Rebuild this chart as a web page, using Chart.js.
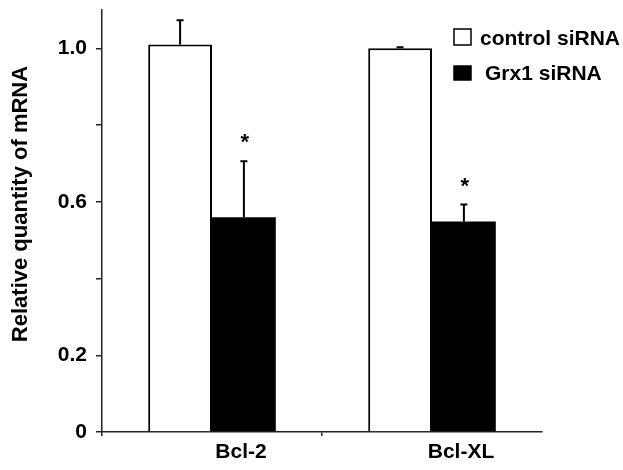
<!DOCTYPE html>
<html>
<head>
<meta charset="utf-8">
<script src="https://cdn.jsdelivr.net/npm/chart.js@4"></script>
<style>
  html, body { margin: 0; padding: 0; background: #fff; }
  #wrap { width: 623px; height: 470px; }
</style>
</head>
<body>
<div id="wrap"><canvas id="mrnaChart" width="623" height="470"></canvas></div>
<script>
// values
const genes = ["Bcl-2", "Bcl-XL"];
const controlMean = [1.01, 1.0];
const controlErr = [0.063, 0.003];
const grx1Mean = [0.56, 0.549];
const grx1Err = [0.146, 0.044];
const grx1Significant = [true, true];
const yTicks = [0, 0.2, 0.4, 0.6, 0.8, 1.0];
const yTickLabels = ["0", "0.2", "", "0.6", "", "1.0"];

const FONT = '"Liberation Sans", Arial, sans-serif';
const AXIS = "#222";

// up-only error bars plus asterisks over the Grx1 bars
const errorBars = {
  id: "errorBars",
  afterDatasetsDraw(chart) {
    const ctx = chart.ctx;
    const yScale = chart.scales.y;
    ctx.save();
    ctx.strokeStyle = "#000";
    ctx.lineWidth = 2;
    chart.data.datasets.forEach((ds, di) => {
      const meta = chart.getDatasetMeta(di);
      meta.data.forEach((bar, i) => {
        const top = yScale.getPixelForValue(ds.data[i] + ds.errors[i]);
        ctx.beginPath();
        ctx.moveTo(bar.x, bar.y);
        ctx.lineTo(bar.x, top);
        ctx.moveTo(bar.x - 3.5, top);
        ctx.lineTo(bar.x + 3.5, top);
        ctx.stroke();
        if (ds.stars && ds.stars[i]) {
          ctx.fillStyle = "#000";
          ctx.font = "bold 22px " + FONT;
          ctx.textAlign = "center";
          ctx.textBaseline = "alphabetic";
          ctx.fillText("*", bar.x + 1, top - 12);
        }
      });
    });
    ctx.restore();
  }
};

// legend in the top right corner
const boxLegend = {
  id: "boxLegend",
  afterDraw(chart) {
    const ctx = chart.ctx;
    const rows = [
      { box: [454, 29, 17, 16], textX: 480, base: 45 },
      { box: [454, 66, 17, 14], textX: 485, base: 80 }
    ];
    ctx.save();
    ctx.font = "bold 21px " + FONT;
    ctx.textAlign = "left";
    ctx.textBaseline = "alphabetic";
    chart.data.datasets.forEach((ds, i) => {
      const r = rows[i];
      ctx.fillStyle = ds.backgroundColor;
      ctx.fillRect(r.box[0], r.box[1], r.box[2], r.box[3]);
      ctx.strokeStyle = "#000";
      ctx.lineWidth = 1.5;
      ctx.strokeRect(r.box[0], r.box[1], r.box[2], r.box[3]);
      ctx.fillStyle = "#000";
      ctx.fillText(ds.label, r.textX, r.base);
    });
    ctx.restore();
  }
};

// y axis title, sits a bit above the middle of the axis
const yTitle = {
  id: "yTitle",
  afterDraw(chart) {
    const ctx = chart.ctx;
    ctx.save();
    ctx.translate(21, 204);
    ctx.rotate(-Math.PI / 2);
    ctx.font = "bold 22px " + FONT;
    ctx.fillStyle = "#000";
    ctx.textAlign = "center";
    ctx.textBaseline = "middle";
    ctx.fillText("Relative quantity of mRNA", 0, 0);
    ctx.restore();
  }
};

new Chart(document.getElementById("mrnaChart"), {
  type: "bar",
  data: {
    labels: genes,
    datasets: [
      {
        label: "control siRNA",
        data: controlMean,
        errors: controlErr,
        backgroundColor: "#fff",
        borderColor: "#000",
        borderWidth: 2,
        categoryPercentage: 0.58,
        barPercentage: 1
      },
      {
        label: "Grx1 siRNA",
        data: grx1Mean,
        errors: grx1Err,
        stars: grx1Significant,
        backgroundColor: "#000",
        borderWidth: 0,
        categoryPercentage: 0.58,
        barPercentage: 1
      }
    ]
  },
  options: {
    responsive: false,
    animation: false,
    layout: { padding: { top: 10, right: 81, left: 0, bottom: 0 } },
    plugins: {
      legend: { display: false },
      tooltip: { enabled: false }
    },
    scales: {
      x: {
        afterFit: (s) => { s.height = 38; s.paddingLeft = 0; s.paddingRight = 0; },
        border: { color: AXIS, width: 1.5 },
        grid: {
          drawOnChartArea: false,
          tickLength: 4,
          lineWidth: 1.5,
          color: (c) => (c.type === "tick" ? AXIS : "rgba(0,0,0,0)")
        },
        ticks: {
          labelOffset: 29,
          padding: 6,
          color: "#000",
          font: { family: FONT, size: 21, weight: "bold", lineHeight: 1 }
        }
      },
      y: {
        min: 0,
        max: 1.1,
        afterBuildTicks: (s) => { s.ticks = yTicks.map((v) => ({ value: v })); },
        afterFit: (s) => { s.width = 102; s.paddingTop = 0; s.paddingBottom = 0; },
        border: { color: AXIS, width: 1.5 },
        grid: { drawOnChartArea: false, tickLength: 6, lineWidth: 1.5, color: AXIS },
        ticks: {
          padding: 9,
          color: "#000",
          font: { family: FONT, size: 21, weight: "bold", lineHeight: 1 },
          callback: (v, i) => yTickLabels[i]
        }
      }
    }
  },
  plugins: [errorBars, boxLegend, yTitle]
});
</script>
</body>
</html>
